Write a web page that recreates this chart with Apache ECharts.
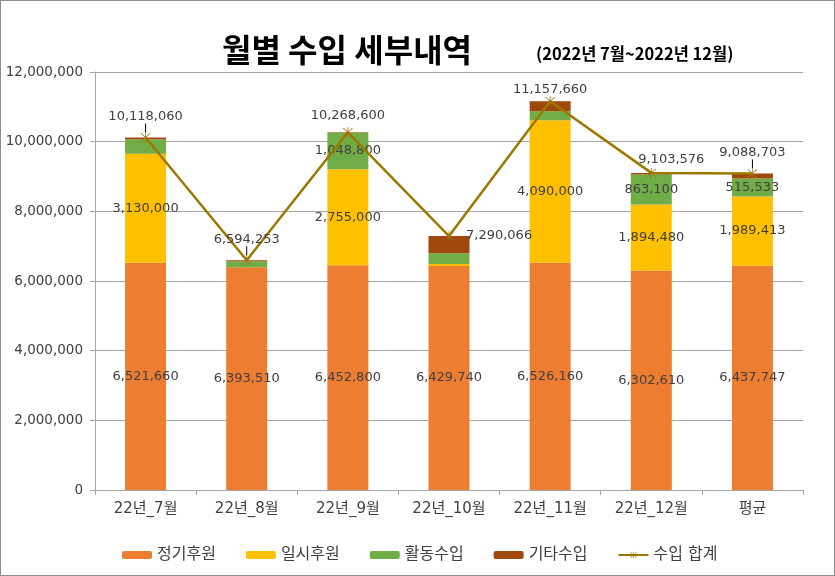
<!DOCTYPE html>
<html>
<head>
<meta charset="utf-8">
<script src="https://cdn.jsdelivr.net/npm/echarts@6/dist/echarts.min.js"></script>
<style>
  html, body { margin: 0; padding: 0; background: #fff; }
  #chart { width: 835px; height: 576px; box-sizing: border-box; border: 1px solid #8c8c8c; }
</style>
</head>
<body>
<div id="chart"></div>
<script>
// values
const categories = ['22년_7월', '22년_8월', '22년_9월', '22년_10월', '22년_11월', '22년_12월', '평균']
const regular = [6521660, 6393510, 6452800, 6429740, 6526160, 6302610, 6437747]   // 정기후원
const oneTime = [3130000, 0, 2755000, 60000, 4090000, 1894480, 1989413]           // 일시후원
const activity = [420000, 170743, 1048800, 310000, 260000, 863100, 515533]        // 활동수입
const other = [46400, 30000, 12000, 490326, 281500, 43386, 146010]                // 기타수입
const total = [10118060, 6594253, 10268600, 7290066, 11157660, 9103576, 9088703]  // 수입 합계
const yTicks = [0, 2000000, 4000000, 6000000, 8000000, 10000000, 12000000]

const FONT = "'DejaVu Sans', 'Noto Sans CJK KR', sans-serif"
const fmt = v => v.toLocaleString('en-US')

// asterisk marker like Excel's star marker
const starPath = 'path://M1,2L2,1L19,18L18,19Z M18,1L19,2L2,19L1,18Z M9.3,0H10.7V20H9.3Z'

const chart = echarts.init(document.getElementById('chart'))

const barLabel = {
  show: true,
  position: 'inside',
  color: '#404040',
  fontSize: 13,
  fontFamily: FONT,
  formatter: p => p.value >= 500000 ? fmt(p.value) : ''
}

// where the total labels sit relative to their points
const totalShift = [[0, -4], [0, -4], [0, 0], [0, 0], [0, 5], [20, 3], [0, -4]]
const withLeader = [true, true, false, false, false, false, true]

const totalData = total.map((v, i) => {
  const item = {value: v}
  if (i === 3) item.label = {position: 'right', distance: 12}
  item.labelLine = {show: withLeader[i]}
  return item
})

const option = {
  animation: false,
  title: [
    {
      text: '월별 수입 세부내역',
      left: 341, top: 28, textAlign: 'center',
      textStyle: {fontFamily: "'Noto Sans CJK KR', sans-serif", fontSize: 32, fontWeight: 'bold', color: '#000'}
    },
    {
      text: '(2022년 7월~2022년 12월)',
      left: 530, top: 39,
      textStyle: {fontFamily: "'Noto Sans CJK KR', sans-serif", fontSize: 16.5, fontWeight: 'bold', color: '#000'}
    }
  ],
  legend: {
    left: 116, top: 541,
    itemWidth: 30, itemHeight: 8, itemGap: 30,
    textStyle: {fontFamily: FONT, fontSize: 16, color: '#404040'},
    data: ['정기후원', '일시후원', '활동수입', '기타수입', '수입 합계']
  },
  grid: {left: 94, right: 31, top: 71, bottom: 85},
  xAxis: {
    type: 'category',
    data: categories,
    axisLine: {lineStyle: {color: '#a6a6a6'}},
    axisTick: {show: true, length: 5, lineStyle: {color: '#a6a6a6'}},
    axisLabel: {color: '#404040', fontSize: 15, fontFamily: FONT, margin: 12}
  },
  yAxis: {
    type: 'value',
    min: yTicks[0], max: yTicks[yTicks.length - 1], interval: yTicks[1] - yTicks[0],
    axisLine: {show: true, lineStyle: {color: '#a6a6a6'}},
    axisTick: {show: true, length: 5, lineStyle: {color: '#a6a6a6'}},
    splitLine: {lineStyle: {color: '#a6a6a6'}},
    axisLabel: {color: '#404040', fontSize: 13.5, fontFamily: FONT, margin: 12, formatter: v => fmt(v)}
  },
  series: [
    {name: '정기후원', type: 'bar', stack: 'sum', barWidth: 41, itemStyle: {color: '#ED7D31'}, label: barLabel, data: regular},
    {name: '일시후원', type: 'bar', stack: 'sum', itemStyle: {color: '#FFC000'}, label: barLabel, data: oneTime},
    {name: '활동수입', type: 'bar', stack: 'sum', itemStyle: {color: '#70AD47'}, label: barLabel, data: activity},
    {name: '기타수입', type: 'bar', stack: 'sum', itemStyle: {color: '#9E480E'}, data: other},
    {
      name: '수입 합계', type: 'line',
      symbol: starPath, symbolSize: 10,
      itemStyle: {color: '#9C7800'},
      lineStyle: {color: '#9C7800', width: 2.5},
      label: {show: true, position: 'top', distance: 5, color: '#404040', fontSize: 13, fontFamily: FONT, formatter: p => fmt(p.value)},
      labelLine: {show: false, lineStyle: {color: '#000', width: 1}},
      labelLayout: p => ({dx: totalShift[p.dataIndex][0], dy: totalShift[p.dataIndex][1]}),
      z: 5,
      data: totalData
    }
  ]
}

chart.setOption(option)
</script>
</body>
</html>
